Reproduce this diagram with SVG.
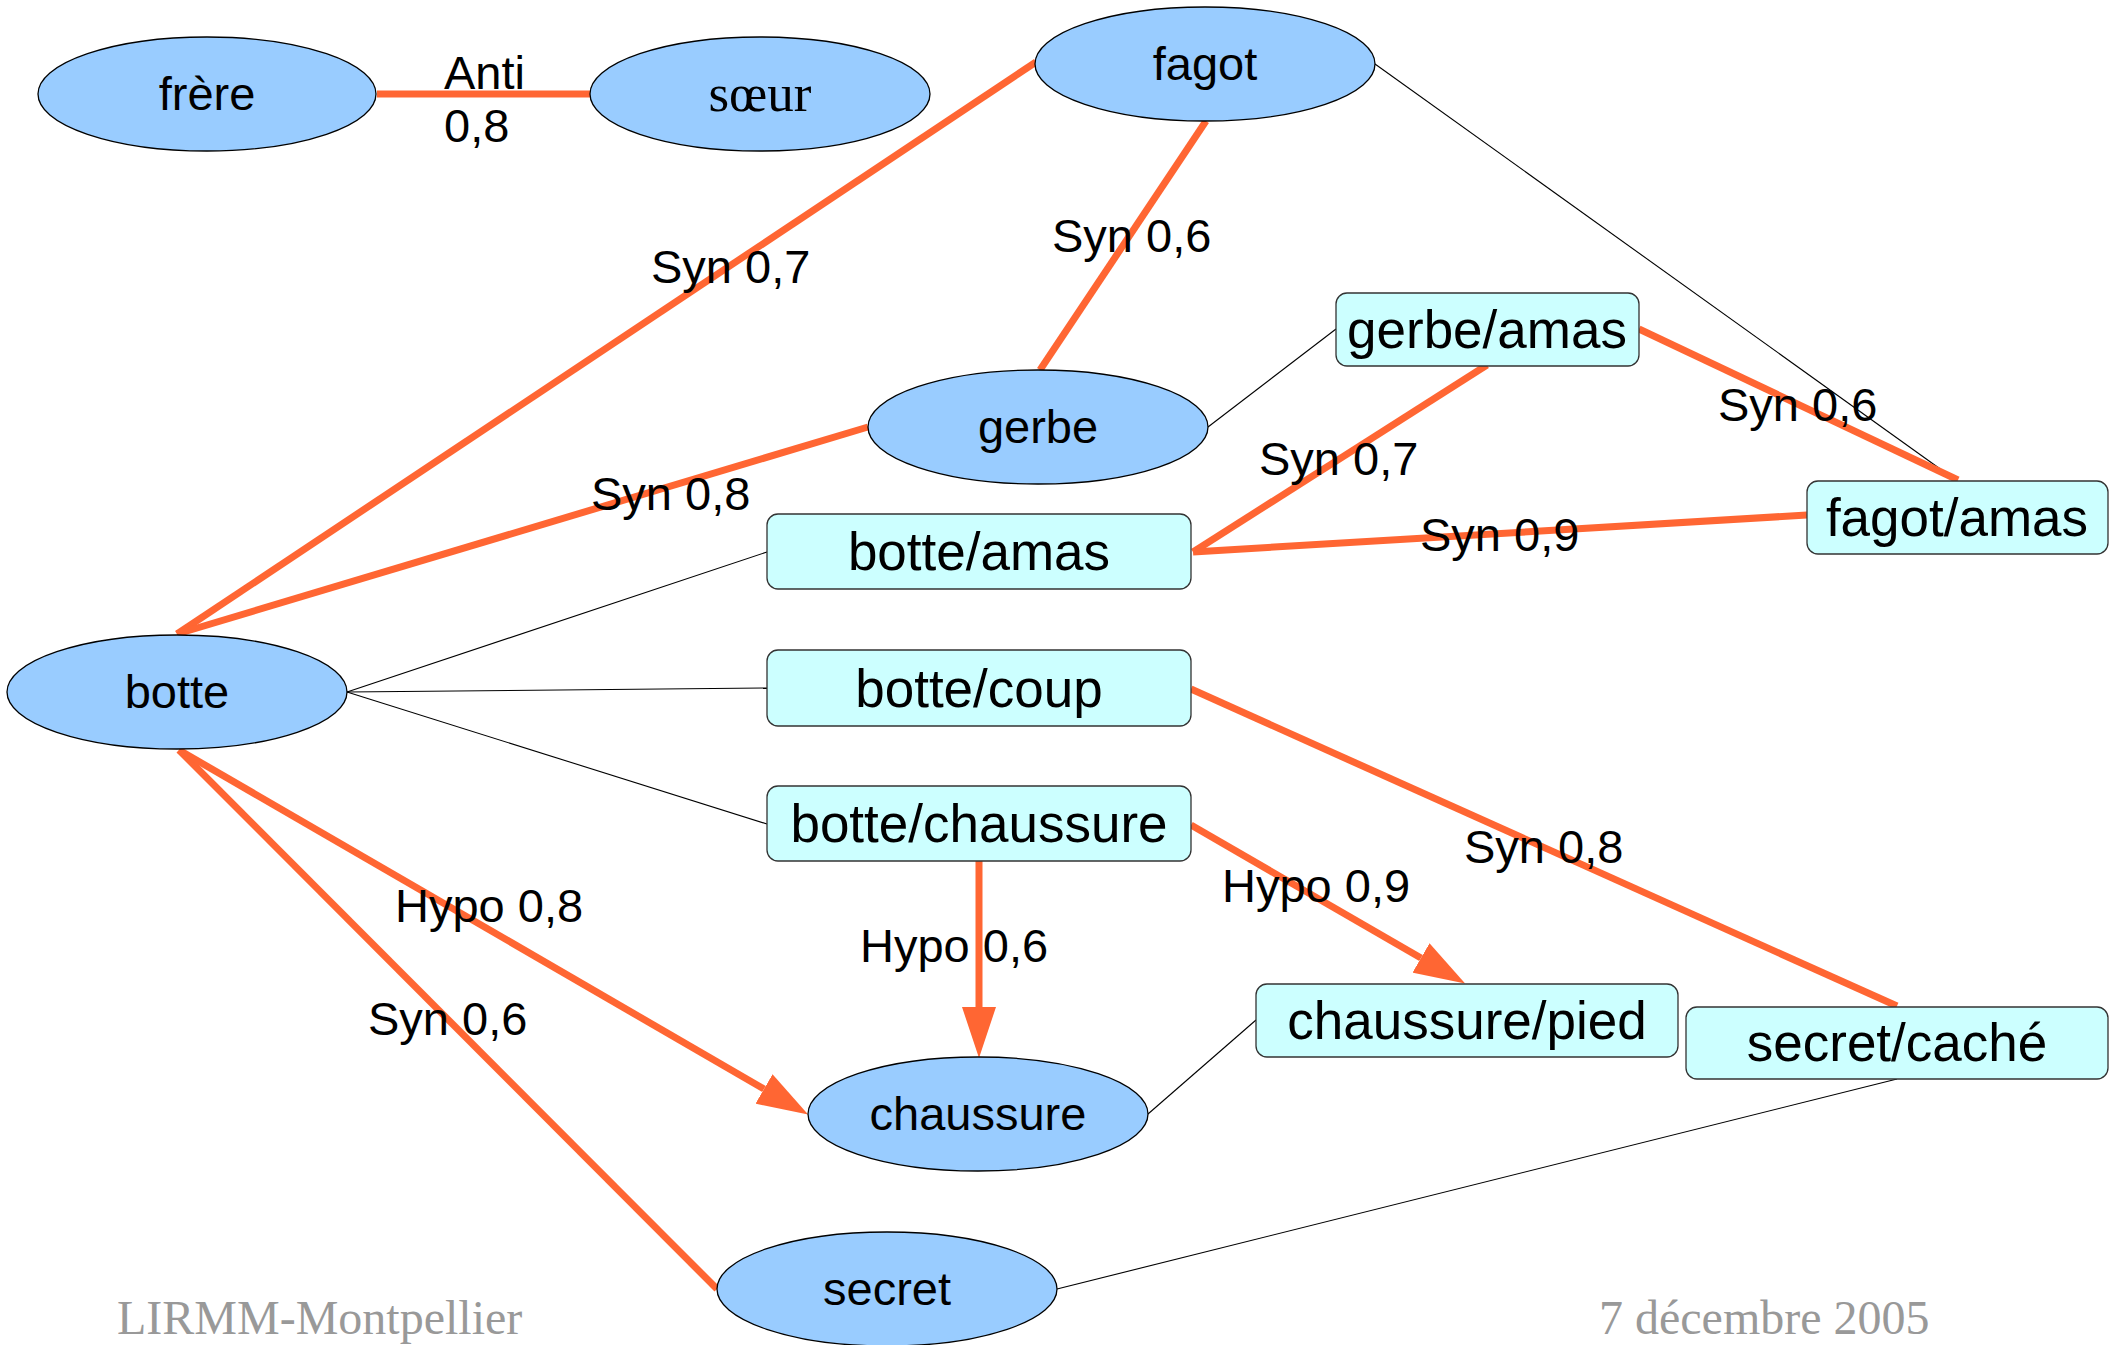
<svg xmlns="http://www.w3.org/2000/svg" width="2110" height="1345" viewBox="0 0 2110 1345">
<style>
.ell{fill:#99ccff;stroke:#000;stroke-width:1.3}
.box{fill:#ccffff;stroke:#333;stroke-width:1.3}
.nt{font-family:"Liberation Sans",Arial,sans-serif;font-size:47px;text-anchor:middle;fill:#000}
.bt{font-family:"Liberation Sans",Arial,sans-serif;font-size:53px;text-anchor:middle;fill:#000}
.serif{font-family:"Liberation Serif","Times New Roman",serif}
.lab{font-family:"Liberation Sans",Arial,sans-serif;font-size:47px;fill:#000}
.foot{font-family:"Liberation Serif","Times New Roman",serif;font-size:48px;fill:#999999}
.rel{stroke:#ff6633;stroke-width:7;fill:none}
.thin{stroke:#000;stroke-width:1.1;fill:none}
</style>
<defs>
<marker id="arr" markerUnits="userSpaceOnUse" markerWidth="52" markerHeight="34" refX="0" refY="17" orient="auto">
<path d="M0,0 L51,17 L0,34 Z" fill="#ff6633"/>
</marker>
</defs>
<rect width="2110" height="1345" fill="#fff"/>
<g id="connectors">
<line class="thin" x1="1375" y1="64" x2="1957" y2="481"/>
<line class="thin" x1="1208" y1="427" x2="1336" y2="329"/>
<line class="thin" x1="347" y1="692" x2="767" y2="552"/>
<line class="thin" x1="347" y1="692" x2="767" y2="688"/>
<line class="thin" x1="347" y1="692" x2="767" y2="824"/>
<line class="thin" x1="1148" y1="1114" x2="1256" y2="1020"/>
<line class="thin" x1="1057" y1="1289" x2="1897" y2="1079"/>
<line class="rel" x1="377" y1="94" x2="590" y2="94"/>
<line class="rel" x1="1036" y1="62" x2="177" y2="634"/>
<line class="rel" x1="1206" y1="121" x2="1040" y2="370"/>
<line class="rel" x1="868" y1="427" x2="177" y2="634"/>
<line class="rel" x1="1487" y1="365" x2="1193" y2="552"/>
<line class="rel" x1="1807" y1="515" x2="1193" y2="552"/>
<line class="rel" x1="1639" y1="329" x2="1958" y2="480"/>
<line class="rel" x1="1191" y1="689" x2="1897" y2="1006"/>
<line class="rel" x1="179" y1="750" x2="717" y2="1289"/>
<line class="rel" x1="179" y1="750" x2="764" y2="1089" marker-end="url(#arr)"/>
<line class="rel" x1="979" y1="861" x2="979" y2="1007" marker-end="url(#arr)"/>
<line class="rel" x1="1191" y1="825" x2="1421" y2="958" marker-end="url(#arr)"/>
<text class="lab" x="444" y="89">Anti</text>
<text class="lab" x="444" y="142">0,8</text>
<text class="lab" x="651" y="283">Syn 0,7</text>
<text class="lab" x="1052" y="252">Syn 0,6</text>
<text class="lab" x="591" y="510">Syn 0,8</text>
<text class="lab" x="1259" y="475">Syn 0,7</text>
<text class="lab" x="1718" y="421">Syn 0,6</text>
<text class="lab" x="1420" y="551">Syn 0,9</text>
<text class="lab" x="1464" y="863">Syn 0,8</text>
<text class="lab" x="1222" y="902">Hypo 0,9</text>
<text class="lab" x="860" y="962">Hypo 0,6</text>
<text class="lab" x="395" y="922">Hypo 0,8</text>
<text class="lab" x="368" y="1035">Syn 0,6</text>
</g>
<g id="frere"><ellipse class="ell" cx="207" cy="94" rx="169" ry="57"/><text class="nt" x="207" y="110">frère</text></g>
<g id="soeur"><ellipse class="ell" cx="760" cy="94" rx="170" ry="57"/><text class="nt serif" x="760" y="111" style="font-size:53px">sœur</text></g>
<g id="fagot"><ellipse class="ell" cx="1205" cy="64" rx="170" ry="57"/><text class="nt" x="1205" y="80">fagot</text></g>
<g id="gerbe"><ellipse class="ell" cx="1038" cy="427" rx="170" ry="57"/><text class="nt" x="1038" y="443">gerbe</text></g>
<g id="botte"><ellipse class="ell" cx="177" cy="692" rx="170" ry="57"/><text class="nt" x="177" y="708">botte</text></g>
<g id="chaussure"><ellipse class="ell" cx="978" cy="1114" rx="170" ry="57"/><text class="nt" x="978" y="1130">chaussure</text></g>
<g id="secret"><ellipse class="ell" cx="887" cy="1289" rx="170" ry="57"/><text class="nt" x="887" y="1305">secret</text></g>
<g id="gerbe-amas"><rect class="box" x="1336" y="293" width="303" height="73" rx="11"/><text class="bt" x="1487" y="348">gerbe/amas</text></g>
<g id="fagot-amas"><rect class="box" x="1807" y="481" width="301" height="73" rx="11"/><text class="bt" x="1957" y="536">fagot/amas</text></g>
<g id="botte-amas"><rect class="box" x="767" y="514" width="424" height="75" rx="11"/><text class="bt" x="979" y="570">botte/amas</text></g>
<g id="botte-coup"><rect class="box" x="767" y="650" width="424" height="76" rx="11"/><text class="bt" x="979" y="707">botte/coup</text></g>
<g id="botte-chaussure"><rect class="box" x="767" y="786" width="424" height="75" rx="11"/><text class="bt" x="979" y="842">botte/chaussure</text></g>
<g id="chaussure-pied"><rect class="box" x="1256" y="984" width="422" height="73" rx="11"/><text class="bt" x="1467" y="1039">chaussure/pied</text></g>
<g id="secret-cache"><rect class="box" x="1686" y="1007" width="422" height="72" rx="11"/><text class="bt" x="1897" y="1061">secret/caché</text></g>
<text class="foot" x="117" y="1334">LIRMM-Montpellier</text>
<text class="foot" x="1599" y="1334">7 décembre 2005</text>
</svg>
